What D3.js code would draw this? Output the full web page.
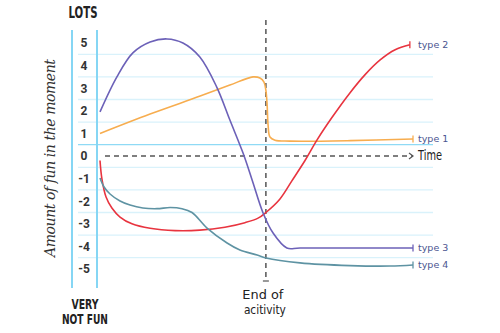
<!DOCTYPE html>
<html>
<head>
<meta charset="utf-8">
<script src="https://cdn.jsdelivr.net/npm/d3@7"></script>
<style>
  body { margin: 0; background: #fff; }
  svg { display: block; }
  .cond { font-family: "Liberation Sans Narrow", "DejaVu Sans Condensed", sans-serif; font-stretch: condensed; fill: #222; }
</style>
</head>
<body>
<svg id="chart" width="500" height="333"></svg>
<script>
// fun over time, sampled along each curve: [time, fun]
var type1 = [[0,1.0],[1.6,1.86],[3.2,2.65],[4.15,3.14],[4.89,3.5],[5.11,3.45],[5.24,3.27],[5.3,2.9],[5.34,2.25],[5.37,1.37],[5.43,0.84],[5.59,0.7],[6.07,0.66],[8.0,0.68],[10,0.75]];
var type2 = [[0,-0.2],[0.06,-1.0],[0.19,-1.8],[0.38,-2.3],[0.64,-2.7],[1.02,-3.0],[1.6,-3.2],[2.4,-3.3],[3.19,-3.28],[3.99,-3.15],[4.63,-2.95],[5.05,-2.75],[5.3,-2.5],[5.75,-1.9],[6.13,-1.1],[6.55,-0.2],[6.93,0.7],[7.41,1.7],[7.99,2.8],[8.47,3.6],[8.95,4.25],[9.43,4.7],[9.9,4.92]];
var type3 = [[0,1.95],[0.54,3.5],[1.05,4.56],[1.6,5.04],[2.14,5.18],[2.65,5.0],[3.19,4.38],[3.73,3.05],[4.15,1.59],[4.57,0.13],[4.86,-1.06],[5.21,-2.52],[5.53,-3.41],[5.97,-4.07],[6.39,-4.07],[10,-4.07]];
var type4 = [[0,-0.97],[0.13,-1.37],[0.32,-1.68],[0.64,-1.99],[0.96,-2.17],[1.37,-2.3],[1.82,-2.33],[2.24,-2.28],[2.62,-2.33],[2.94,-2.5],[3.42,-3.19],[4.06,-3.85],[4.47,-4.16],[5.02,-4.38],[5.3,-4.51],[6.39,-4.73],[7.99,-4.85],[9.27,-4.87],[10,-4.82]];

var series = [
  {name: "type 1", color: "#f7ad4f", values: type1},
  {name: "type 2", color: "#e8343f", values: type2},
  {name: "type 3", color: "#6c61b8", values: type3},
  {name: "type 4", color: "#5e93a3", values: type4}
];
var yTicks = [5,4,3,2,1,0,-1,-2,-3,-4,-5];
var ruleLines = [4.5,3.5,2.5,1.5,0.5,-0.5,-1.5,-2.5,-3.5,-4.5];
var endOfActivity = 5.3;

var svg = d3.select("#chart");
var x = d3.scaleLinear().domain([0, 10]).range([100, 413]);
var y = d3.scaleLinear().domain([0, 5]).range([156, 43]);

// ruled paper lines
svg.selectAll("line.rule").data(ruleLines).enter().append("line")
  .attr("class", "rule")
  .attr("x1", 78).attr("x2", 433)
  .attr("y1", function(d){ return y(d); })
  .attr("y2", function(d){ return y(d); })
  .style("stroke", function(d){ return d == 0.5 ? "#8fdaf5" : "#d9f2fb"; })
  .style("stroke-width", 1.3);

// margin lines
[72, 97].forEach(function(px){
  svg.append("line")
    .attr("x1", px).attr("x2", px).attr("y1", 30).attr("y2", 288)
    .style("stroke", "#86d6f4").style("stroke-width", 2);
});

// y tick labels
svg.selectAll("text.tick").data(yTicks).enter().append("text")
  .attr("class", "tick")
  .attr("x", 84).attr("y", function(d){ return y(d); })
  .attr("dy", "0.36em")
  .attr("text-anchor", "middle")
  .style("font-family", "Roboto, 'Liberation Sans', sans-serif")
  .style("font-weight", "bold").style("font-size", "12px").style("fill", "#333")
  .text(function(d){ return d; });

// condensed captions
function caption(txt, cx, cy, size, len, bold){
  svg.append("text").attr("class", "cond")
    .attr("x", cx).attr("y", cy).attr("text-anchor", "middle")
    .attr("textLength", len).attr("lengthAdjust", "spacingAndGlyphs")
    .style("font-weight", bold ? "bold" : "normal")
    .style("font-size", size + "px")
    .text(txt);
}
caption("LOTS", 83, 18, 15, 29, true);
caption("VERY", 85, 309, 13.5, 27, true);
caption("NOT FUN", 85, 324, 13.5, 46, true);

svg.append("text")
  .attr("transform", "translate(55,158) rotate(-90)")
  .attr("text-anchor", "middle")
  .attr("textLength", 198)
  .style("font-family", "'DejaVu Serif', serif").style("font-style", "italic")
  .style("font-size", "14px").style("fill", "#333")
  .text("Amount of fun in the moment");

// time axis
svg.append("line")
  .attr("x1", 105).attr("x2", x(10)).attr("y1", y(0)).attr("y2", y(0))
  .style("stroke", "#555").style("stroke-width", 1.5).style("stroke-dasharray", "5,4");
svg.append("path")
  .attr("d", "M" + (x(10) - 4) + "," + (y(0) - 3) + "L" + x(10) + "," + y(0) + "L" + (x(10) - 4) + "," + (y(0) + 3))
  .style("fill", "none").style("stroke", "#555").style("stroke-width", 1.2);
svg.append("text").attr("class", "cond")
  .attr("x", 418).attr("y", 160)
  .attr("textLength", 24).attr("lengthAdjust", "spacingAndGlyphs")
  .style("font-size", "14px").text("Time");

// end of activity marker
var ex = x(endOfActivity);
svg.append("line")
  .attr("x1", ex).attr("x2", ex).attr("y1", 20).attr("y2", 281)
  .style("stroke", "#555").style("stroke-width", 1.5).style("stroke-dasharray", "5,4");
svg.append("line")
  .attr("x1", ex - 3).attr("x2", ex + 3).attr("y1", 281).attr("y2", 281)
  .style("stroke", "#555").style("stroke-width", 1.2);
caption("End of", ex - 3, 299, 13, 41, false);
caption("acitivity", ex - 1, 314, 13, 42, false);

// curves
var line = d3.line()
  .x(function(d){ return x(d[0]); })
  .y(function(d){ return y(d[1]); })
  .curve(d3.curveCatmullRom.alpha(0.5));

var g = svg.selectAll("g.series").data(series).enter().append("g").attr("class", "series");
g.append("path")
  .attr("d", function(d){ return line(d.values); })
  .style("fill", "none")
  .style("stroke", function(d){ return d.color; })
  .style("stroke-width", 1.6);
g.append("line")
  .attr("x1", function(d){ return x(d.values[d.values.length - 1][0]); })
  .attr("x2", function(d){ return x(d.values[d.values.length - 1][0]); })
  .attr("y1", function(d){ return y(d.values[d.values.length - 1][1]) - 3.5; })
  .attr("y2", function(d){ return y(d.values[d.values.length - 1][1]) + 3.5; })
  .style("stroke", function(d){ return d.color; })
  .style("stroke-width", 1.3);
g.append("text")
  .attr("x", 418)
  .attr("y", function(d){ return y(d.values[d.values.length - 1][1]); })
  .attr("dy", "0.3em")
  .style("font-family", "'DejaVu Sans', sans-serif")
  .style("font-size", "9.5px").style("fill", "#4a5590")
  .text(function(d){ return d.name; });
</script>
</body>
</html>
